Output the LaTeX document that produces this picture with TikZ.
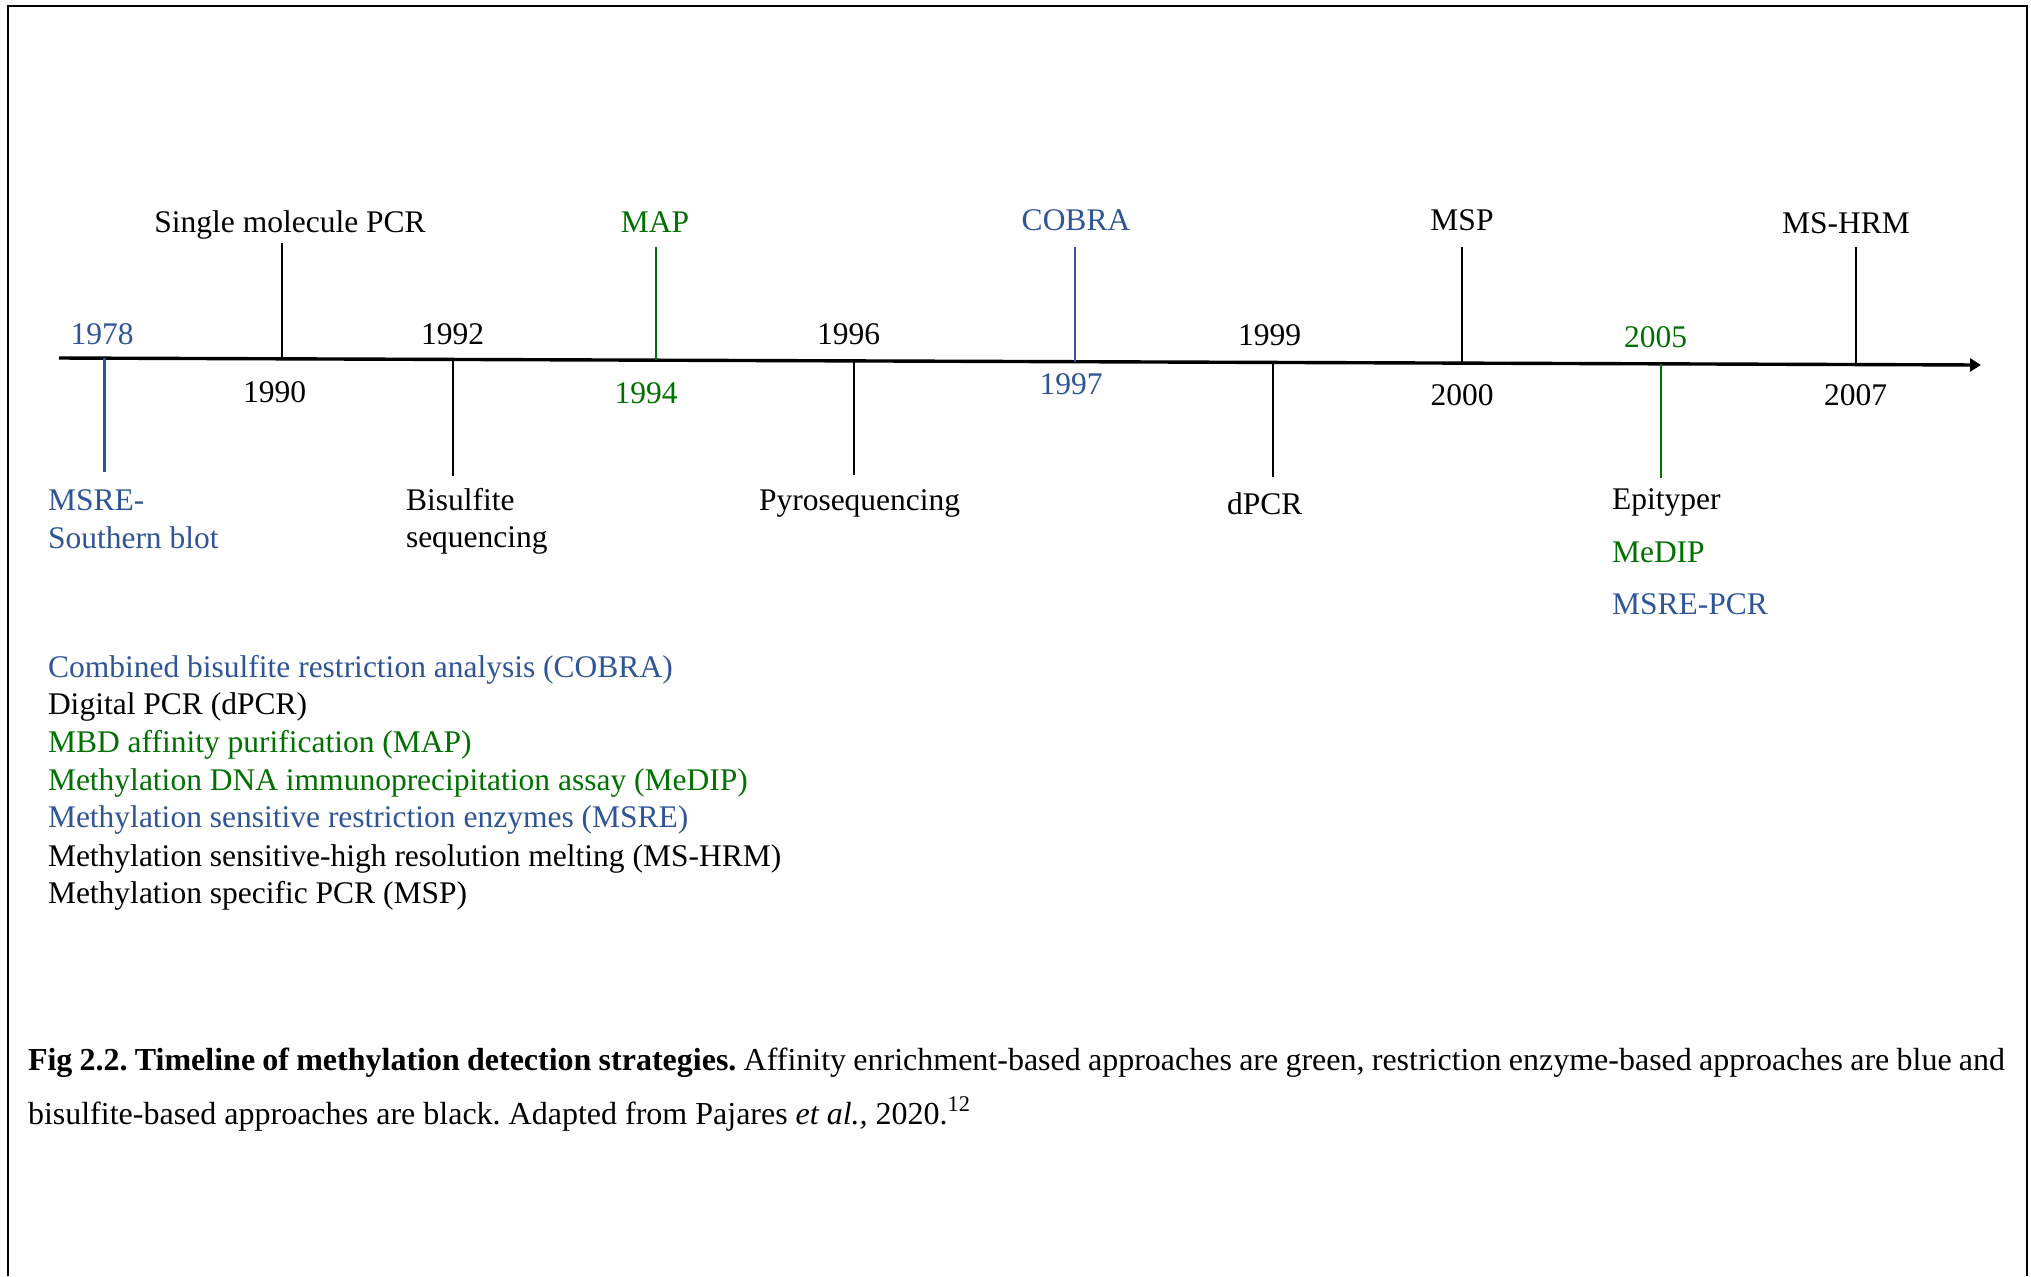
\documentclass[tikz,border=0pt]{standalone}
\usepackage{fontspec}
\setmainfont{Liberation Serif}
\usetikzlibrary{arrows.meta}
\definecolor{cblue}{RGB}{47,85,151}
\definecolor{cgreen}{RGB}{0,112,0}
\frenchspacing
\begin{document}
\begin{tikzpicture}[x=0.5pt,y=-0.5pt,
  lbl/.style={inner sep=0pt, outer sep=0pt, font=\fontsize{15.75}{18}\selectfont, anchor=base},
  lblw/.style={lbl, anchor=base west},
  capt/.style={inner sep=0pt, outer sep=0pt, font=\fontsize{16}{19}\selectfont, anchor=base west},
  tickline/.style={line width=1.1pt},
  axisline/.style={line width=1.7pt, -{Triangle[length=5.5pt,width=6.5pt]}},
  frameline/.style={line width=1.2pt}
]
\useasboundingbox (0,0) rectangle (2031,1276);
% frame
\draw[frameline] (8,1276) -- (8,6) -- (2027,6) -- (2027,1276);

% axis
\coordinate (axs) at (59,358);
\coordinate (axe) at (1981,365);
\draw[axisline] (axs) -- (axe);

% tick coordinates
\coordinate (a1978) at (104.5,358.2);  \coordinate (b1978) at (104.5,471.5);
\coordinate (a1990) at (282,358.8);    \coordinate (b1990) at (282,243);
\coordinate (a1992) at (453,359.4);    \coordinate (b1992) at (453,476);
\coordinate (a1994) at (656,360.2);    \coordinate (b1994) at (656,247);
\coordinate (a1996) at (854,360.9);    \coordinate (b1996) at (854,475);
\coordinate (a1997) at (1075,361.7);   \coordinate (b1997) at (1075,247);
\coordinate (a1999) at (1273,362.4);   \coordinate (b1999) at (1273,477);
\coordinate (a2000) at (1462,363.1);   \coordinate (b2000) at (1462,247);
\coordinate (a2005) at (1661,363.8);   \coordinate (b2005) at (1661,478);
\coordinate (a2007) at (1856,364.5);   \coordinate (b2007) at (1856,247);

\draw[tickline, cblue]  (a1978) -- (b1978);
\draw[tickline]         (a1990) -- (b1990);
\draw[tickline]         (a1992) -- (b1992);
\draw[tickline, cgreen] (a1994) -- (b1994);
\draw[tickline]         (a1996) -- (b1996);
\draw[tickline, cblue]  (a1997) -- (b1997);
\draw[tickline]         (a1999) -- (b1999);
\draw[tickline]         (a2000) -- (b2000);
\draw[tickline, cgreen] (a2005) -- (b2005);
\draw[tickline]         (a2007) -- (b2007);

% year labels
\node[lbl, cblue]  (y1978) at (102,344)    {1978};
\node[lbl]         (y1990) at (274.5,402)  {1990};
\node[lbl]         (y1992) at (452.5,344)  {1992};
\node[lbl, cgreen] (y1994) at (646,403)    {1994};
\node[lbl]         (y1996) at (848.5,344)  {1996};
\node[lbl, cblue]  (y1997) at (1071,394)   {1997};
\node[lbl]         (y1999) at (1269.5,345) {1999};
\node[lbl]         (y2000) at (1462,405)   {2000};
\node[lbl, cgreen] (y2005) at (1655.5,347) {2005};
\node[lbl]         (y2007) at (1855.5,405) {2007};

% method labels above
\node[lbl]         (smpcr) at (290,232)  {Single molecule PCR};
\node[lbl, cgreen] (map)   at (655,232)  {MAP};
\node[lbl, cblue]  (cobra) at (1076,230) {COBRA};
\node[lbl]         (msp)   at (1462,230) {MSP};
\node[lbl]         (mshrm) at (1846,233) {MS-HRM};

% method labels below
\node[lblw, cblue] (msre1) at (48,510.5)  {MSRE-};
\node[lblw, cblue] (msre2) at (48,548)    {Southern blot};
\node[lblw]        (bis1)  at (406,510.5) {Bisulfite};
\node[lblw]        (bis2)  at (406,547)   {sequencing};
\node[lblw]        (pyro)  at (759,510.5) {Pyrosequencing};
\node[lblw]        (dpcr)  at (1227,514)  {dPCR};
\node[lblw]        (epi)   at (1612,509.5) {Epityper};
\node[lblw, cgreen] (medip) at (1612,562.5) {MeDIP};
\node[lblw, cblue] (msrepcr) at (1612,614.5) {MSRE-PCR};

% legend
\node[lblw, cblue]  (l1) at (48,677) {Combined bisulfite restriction analysis (COBRA)};
\node[lblw]         (l2) at (48,714) {Digital PCR (dPCR)};
\node[lblw, cgreen] (l3) at (48,752) {MBD affinity purification (MAP)};
\node[lblw, cgreen] (l4) at (48,790) {Methylation DNA immunoprecipitation assay (MeDIP)};
\node[lblw, cblue]  (l5) at (48,827) {Methylation sensitive restriction enzymes (MSRE)};
\node[lblw]         (l6) at (48,866) {Methylation sensitive-high resolution melting (MS-HRM)};
\node[lblw]         (l7) at (48,903) {Methylation specific PCR (MSP)};

% caption
\node[capt] (cap1) at (28,1070) {\makebox[988.5pt][s]{\textbf{Fig 2.2. Timeline of methylation detection strategies.} Affinity enrichment-based approaches are green, restriction enzyme-based approaches are blue and}};
\node[capt] (cap2) at (28,1124) {bisulfite-based approaches are black. Adapted from Pajares \textit{et al.,} 2020.\textsuperscript{12}};
\end{tikzpicture}
\end{document}
